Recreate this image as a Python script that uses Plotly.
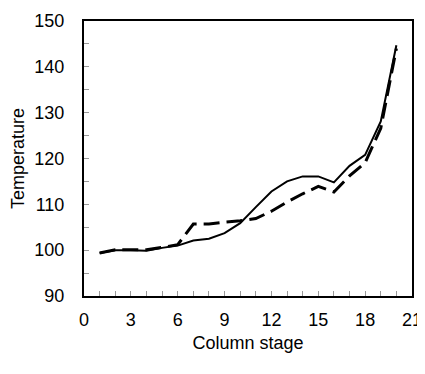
import plotly.graph_objects as go

stages = list(range(1, 21))
temp_solid = [99.4, 100.0, 100.0, 99.9, 100.5, 101.0, 102.1, 102.5, 103.7, 105.9,
              109.4, 112.8, 115.0, 116.1, 116.1, 114.8, 118.4, 120.8, 128.1, 144.7]
temp_dashed = [99.4, 100.1, 100.1, 100.1, 100.6, 101.2, 105.7, 105.7, 106.1, 106.4,
               106.9, 108.5, 110.5, 112.3, 113.9, 112.7, 116.2, 119.1, 126.6, 144.0]

fig = go.Figure()
fig.add_trace(go.Scatter(x=stages, y=temp_solid, mode="lines",
                         line=dict(color="black", width=2), showlegend=False))
fig.add_trace(go.Scatter(x=stages, y=temp_dashed, mode="lines",
                         line=dict(color="black", width=3, dash="16px,7px"), showlegend=False))

font = dict(family="Liberation Sans, Arial, sans-serif", size=18, color="black")
# page body has an 8px default margin, so the figure is offset by 8px
fig.update_layout(
    width=417, height=366,
    margin=dict(l=76, r=13, t=13, b=78),
    paper_bgcolor="white", plot_bgcolor="white",
    font=font,
    xaxis=dict(range=[0, 21], dtick=3, tick0=0, showgrid=False, zeroline=False,
               automargin=False,
               showline=True, linecolor="black", linewidth=2, mirror=True,
               ticks="inside", ticklen=5, tickcolor="#999999", tickwidth=1,
               minor=dict(dtick=1, ticks="inside", ticklen=5, tickcolor="#999999", tickwidth=1),
               ticklabelstandoff=6,
               title=dict(text="Column stage", standoff=8, font=font),
               tickfont=font),
    yaxis=dict(range=[90, 150], dtick=10, showgrid=False, zeroline=False,
               automargin=False,
               showline=True, linecolor="black", linewidth=2, mirror=True,
               ticks="inside", ticklen=5, tickcolor="#999999", tickwidth=1,
               minor=dict(dtick=5, ticks="inside", ticklen=5, tickcolor="#999999", tickwidth=1),
               ticklabelstandoff=14,
               title=dict(text="Temperature", standoff=10, font=font),
               tickfont=font),
)
fig.write_html("out.html")
